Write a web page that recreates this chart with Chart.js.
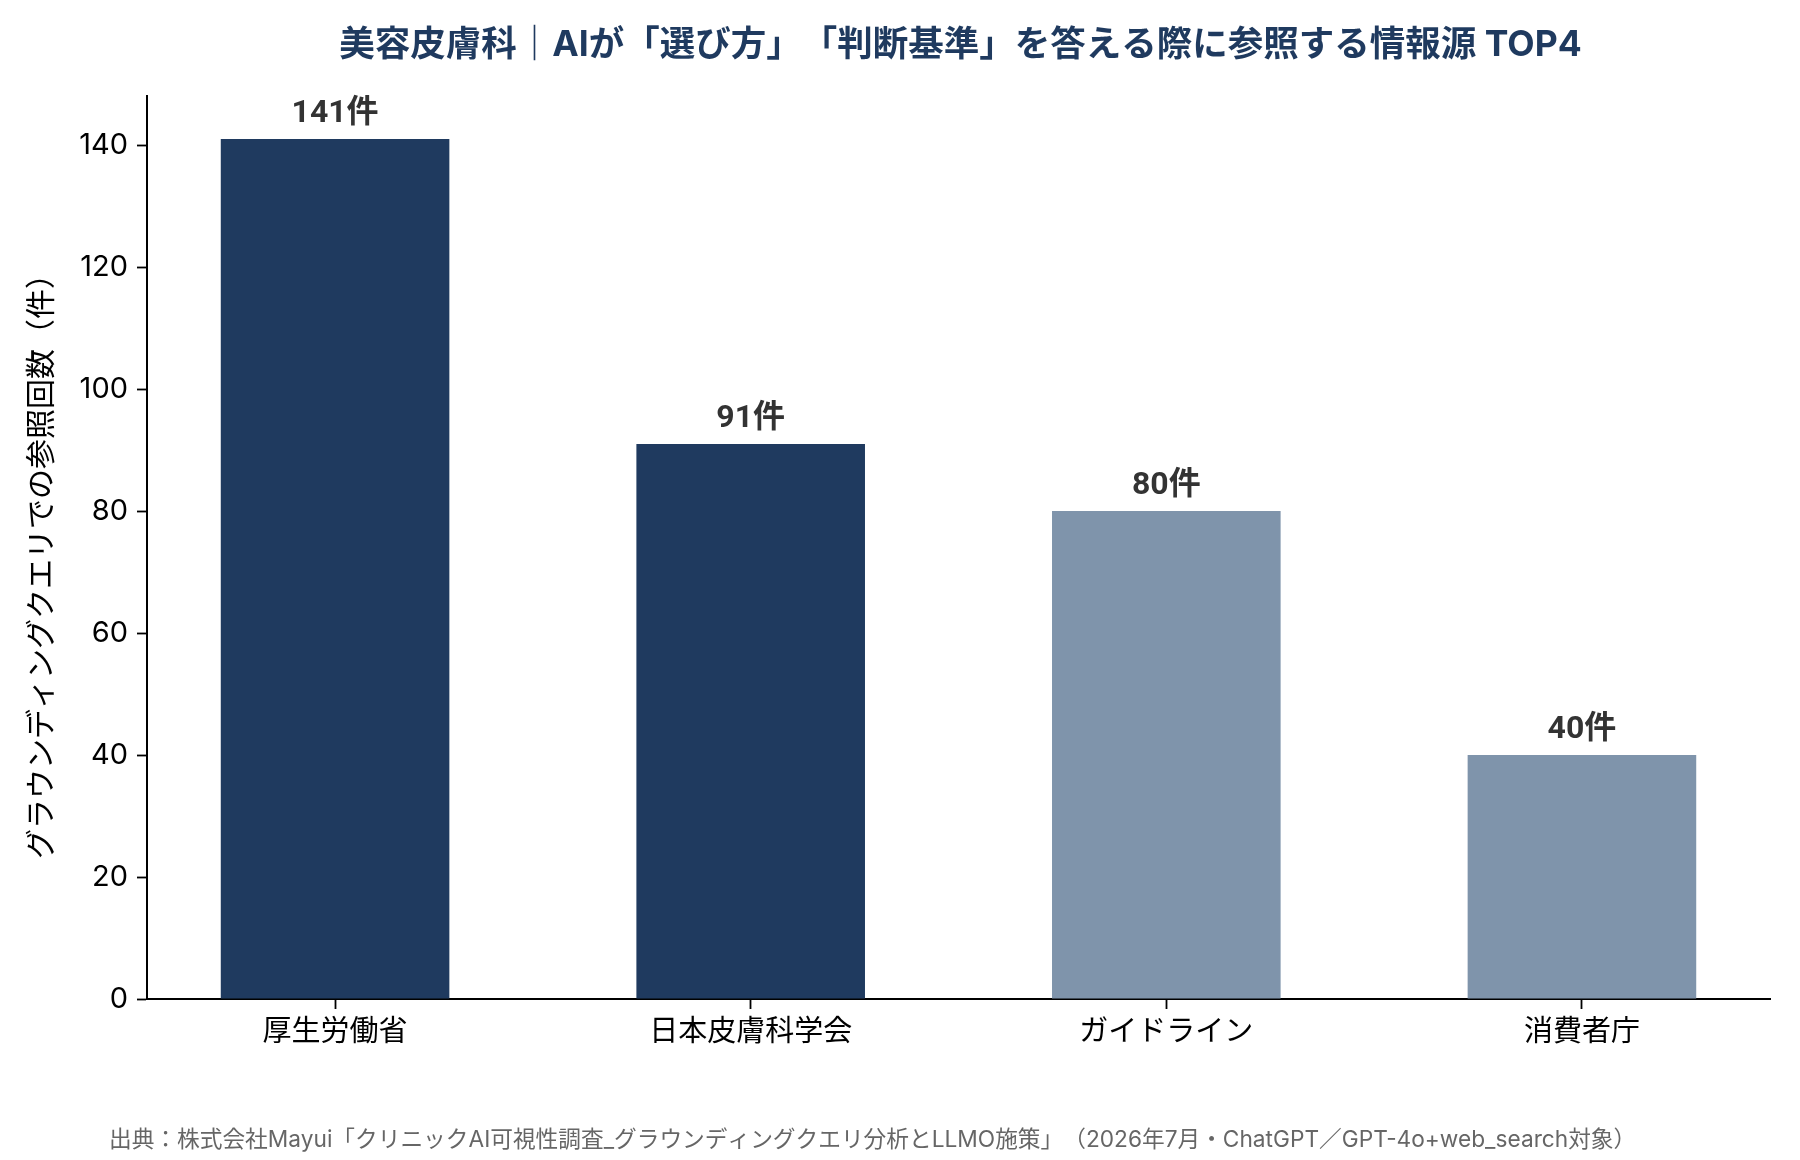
<!DOCTYPE html>
<html lang="ja">
<head>
<meta charset="utf-8">
<script src="https://cdn.jsdelivr.net/npm/chart.js@4.4.1/dist/chart.umd.min.js"></script>
<style>
  html, body { margin: 0; padding: 0; background: #ffffff; }
  #wrap { width: 1800px; height: 1160px; }
  canvas { text-spacing-trim: space-all; }
</style>
</head>
<body>
<div id="wrap"><canvas id="c" width="1800" height="1160"></canvas></div>
<script>
const categories = ["厚生労働省", "日本皮膚科学会", "ガイドライン", "消費者庁"];
const counts = [141, 91, 80, 40];
const barColors = ["#1F3A5F", "#1F3A5F", "#7F94AB", "#7F94AB"];
const yTicks = [0, 20, 40, 60, 80, 100, 120, 140];
const valueSuffix = "件";
const titleText = "美容皮膚科｜AIが「選び方」「判断基準」を答える際に参照する情報源 TOP4";
const yAxisTitle = "グラウンディングクエリでの参照回数（件）";
const footerText = "出典：株式会社Mayui「クリニックAI可視性調査_グラウンディングクエリ分析とLLMO施策」（2026年7月・ChatGPT／GPT-4o+web_search対象）";

const FONT = "Inter, 'Noto Sans CJK JP', sans-serif";
const LABEL_FONT = "Roboto, 'Noto Sans CJK JP', sans-serif";

const decorPlugin = {
  id: 'decor',
  afterDatasetsDraw(chart) {
    const ctx = chart.ctx;
    const meta = chart.getDatasetMeta(0);
    ctx.save();
    ctx.font = "bold 32px " + LABEL_FONT;
    ctx.fillStyle = "#333333";
    ctx.textAlign = "center";
    ctx.textBaseline = "alphabetic";
    meta.data.forEach((bar, i) => {
      ctx.fillText(counts[i] + valueSuffix, bar.x, bar.y - 17);
    });
    ctx.restore();
  },
  afterDraw(chart) {
    const ctx = chart.ctx;
    const area = chart.chartArea;
    ctx.save();
    ctx.font = "bold 35.5px " + FONT;
    ctx.fillStyle = "#1F3A5F";
    ctx.textAlign = "center";
    ctx.textBaseline = "middle";
    ctx.fillText(titleText, (area.left + area.right) / 2 + 2, 45);
    ctx.font = "22.7px " + FONT;
    ctx.fillStyle = "#666666";
    ctx.textAlign = "left";
    ctx.fillText(footerText, 109, 1140);
    // y-axis title
    ctx.translate(42, 559);
    ctx.rotate(-Math.PI / 2);
    ctx.font = "30px " + FONT;
    ctx.fillStyle = "#000000";
    ctx.textAlign = "center";
    ctx.textBaseline = "middle";
    ctx.fillText(yAxisTitle, 0, 0);
    ctx.restore();
  }
};

new Chart(document.getElementById('c'), {
  type: 'bar',
  data: {
    datasets: [{
      data: counts.map((v, i) => ({ x: i, y: v })),
      backgroundColor: barColors,
      borderWidth: 0,
      categoryPercentage: 1.0,
      barPercentage: 0.55
    }]
  },
  options: {
    responsive: false,
    devicePixelRatio: 1,
    animation: false,
    layout: { padding: { top: 96, right: 30, bottom: 0, left: 0 } },
    plugins: {
      legend: { display: false },
      title: { display: false },
      tooltip: { enabled: false }
    },
    scales: {
      x: {
        type: 'linear',
        min: -0.4525,
        max: 3.4525,
        offset: false,
        afterFit(scale) { scale.height = 161; },
        afterBuildTicks(scale) { scale.ticks = categories.map((c, i) => ({ value: i })); },
        grid: { offset: false, drawOnChartArea: false, drawTicks: true, tickLength: 10, tickWidth: 1.8, tickColor: '#000000' },
        border: { display: true, color: '#000000', width: 2 },
        ticks: {
          autoSkip: false,
          maxRotation: 0,
          padding: 6,
          color: '#000000',
          font: { family: FONT, size: 29 },
          callback: (v) => categories[v]
        }
      },
      y: {
        min: 0,
        max: 148.05,
        afterFit(scale) { scale.width = 147; },
        afterBuildTicks(scale) { scale.ticks = yTicks.map(v => ({ value: v })); },
        grid: { drawOnChartArea: false, drawTicks: true, tickLength: 10, tickWidth: 1.8, tickColor: '#000000' },
        border: { display: true, color: '#000000', width: 2 },
        ticks: {
          padding: 9,
          color: '#000000',
          font: { family: FONT, size: 29 },
          callback: (v) => String(v)
        },
        title: { display: false }
      }
    }
  },
  plugins: [decorPlugin]
});
</script>
</body>
</html>
